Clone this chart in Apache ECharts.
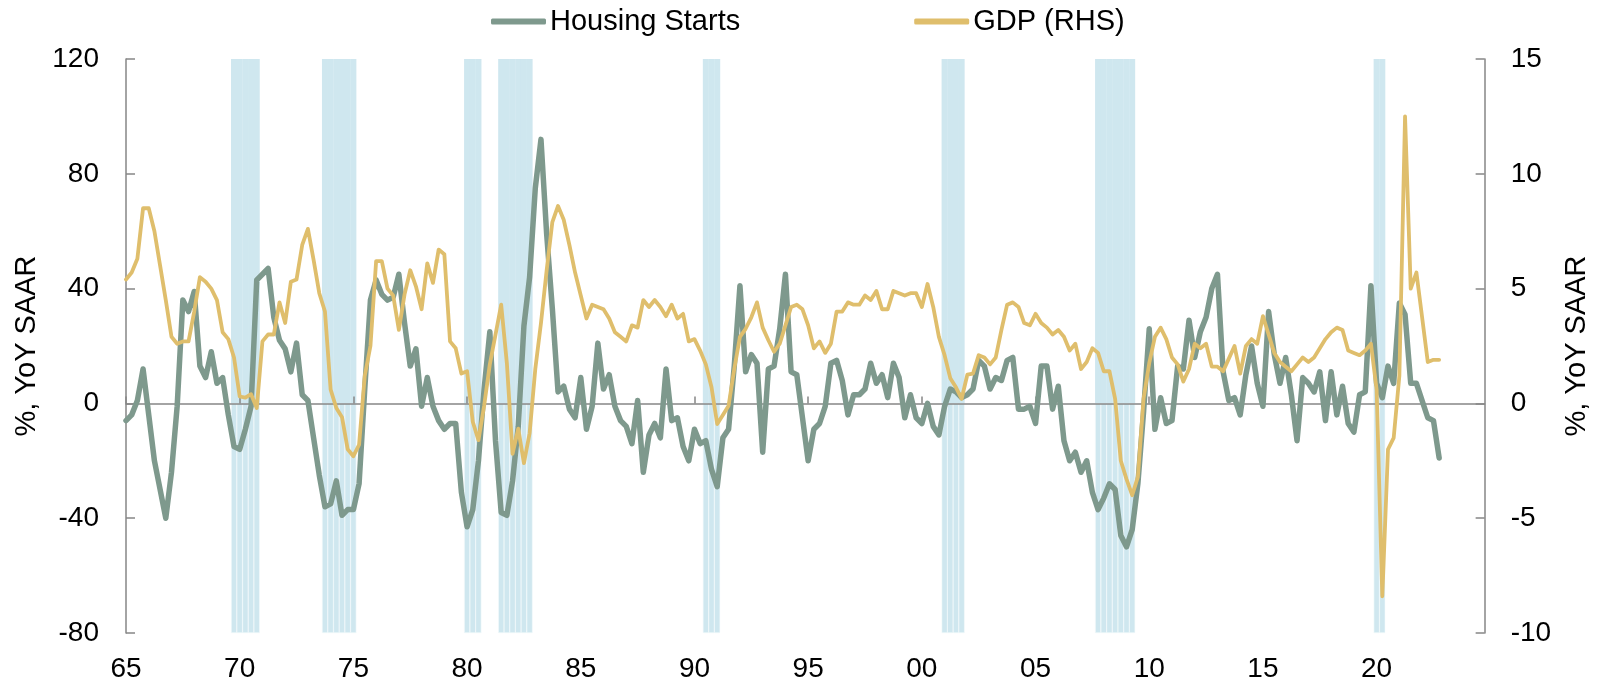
<!DOCTYPE html>
<html>
<head>
<meta charset="utf-8">
<script src="https://cdn.jsdelivr.net/npm/echarts@6/dist/echarts.min.js"></script>
<style>
  html, body { margin: 0; padding: 0; background: #fff; }
  #chart { width: 1599px; height: 683px; }
</style>
</head>
<body>
<div id="chart"></div>
<script>
// quarterly, starting 1965Q1
const housingStarts = [
  -6, -4, 1, 12, -4, -20, -30, -40, -24, -1,
  36, 32, 39, 13, 9, 18, 7, 9, -4, -15,
  -16, -9, -1, 43, 45, 47, 30, 22, 19, 11,
  21, 3, 1, -12, -25, -36, -35, -27, -39, -37,
  -37, -28, 5, 36, 43, 38, 36, 37, 45, 28,
  13, 19, -1, 9, -1, -6, -9, -7, -7, -31,
  -43, -37, -20, 5, 25, -13, -38, -39, -27, -8,
  27, 44, 75, 92, 59, 33, 4, 6, -2, -5,
  9, -9, -1, 21, 5, 10, -1, -6, -8, -14,
  1, -24, -11, -7, -12, 12, -6, -5, -15, -20,
  -9, -14, -13, -23, -29, -12, -9, 13, 41, 11,
  17, 14, -17, 12, 13, 26, 45, 11, 10, -5,
  -20, -9, -7, -1, 14, 15, 8, -4, 3, 3,
  5, 14, 7, 10, 2, 14, 9, -5, 3, -5,
  -7, 0, -8, -11, -1, 5, 4, 2, 3, 5,
  15, 13, 5, 9, 8, 15, 16, -2, -2, -1,
  -7, 13, 13, -2, 6, -13, -20, -17, -24, -20,
  -31, -37, -33, -28, -30, -46, -50, -44, -28, -3,
  26, -9, 2, -7, -6, 13, 12, 29, 16, 25,
  30, 40, 45, 11, 1, 2, -4, 10, 20, 7,
  -1, 32, 17, 7, 16, 3, -13, 9, 7, 4,
  11, -6, 11, -4, 6, -7, -10, 3, 4, 41,
  7, 2, 13, 7, 35, 31, 7, 7, 1, -5,
  -6, -19
];

const gdp = [
  5.4, 5.7, 6.3, 8.5, 8.5, 7.5, 6.0, 4.5, 2.9, 2.6,
  2.7, 2.7, 4.0, 5.5, 5.3, 5.0, 4.5, 3.1, 2.8, 2.0,
  0.3, 0.25, 0.4, -0.2, 2.7, 3.0, 3.0, 4.4, 3.5, 5.3,
  5.4, 6.9, 7.6, 6.25, 4.8, 4.0, 0.6, -0.2, -0.6, -2.0,
  -2.3, -1.8, 1.2, 2.5, 6.2, 6.2, 5.0, 4.7, 3.2, 4.75,
  5.8, 5.1, 4.1, 6.1, 5.25, 6.7, 6.5, 2.7, 2.4, 1.3,
  1.4, -0.8, -1.6, -0.1, 1.7, 3.0, 4.3, 1.75, -2.2, -1.1,
  -2.6, -1.3, 1.5, 3.5, 5.8, 7.9, 8.6, 8.0, 6.9, 5.7,
  4.7, 3.7, 4.3, 4.2, 4.1, 3.7, 3.1, 2.9, 2.7, 3.4,
  3.3, 4.5, 4.2, 4.5, 4.2, 3.8, 4.3, 3.7, 3.9, 2.7,
  2.8, 2.3, 1.7, 0.7, -0.9, -0.5, -0.1, 1.5, 2.9, 3.25,
  3.75, 4.4, 3.3, 2.75, 2.25, 2.6, 3.4, 4.2, 4.3, 4.1,
  3.4, 2.4, 2.7, 2.2, 2.6, 4.0, 4.0, 4.4, 4.3, 4.3,
  4.7, 4.5, 4.9, 4.1, 4.1, 4.9, 4.8, 4.7, 4.8, 4.8,
  4.2, 5.2, 4.2, 2.9, 2.1, 1.1, 0.7, 0.2, 1.25, 1.3,
  2.1, 2.0, 1.7, 2.0, 3.2, 4.3, 4.4, 4.2, 3.5, 3.4,
  3.9, 3.5, 3.3, 3.0, 3.2, 2.9, 2.3, 2.6, 1.5, 1.8,
  2.4, 2.2, 1.4, 1.4, 0.2, -2.5, -3.3, -4.0, -3.2, 0.2,
  1.75, 2.9, 3.3, 2.8, 2.0, 1.7, 0.95, 1.5, 2.6, 2.4,
  2.6, 1.6, 1.6, 1.4, 1.95, 2.5, 1.3, 2.5, 2.8, 2.6,
  3.8, 3.0, 2.2, 1.8, 1.6, 1.4, 1.7, 2.0, 1.8, 2.0,
  2.4, 2.8, 3.1, 3.3, 3.2, 2.3, 2.2, 2.1, 2.3, 2.6,
  0.6, -8.4, -2.0, -1.5, 1.2, 12.5, 5.0, 5.7, 3.75, 1.8,
  1.9, 1.9
];

// recession quarters (first, last)
const recessions = [
  ["1969Q4", "1970Q4"],
  ["1973Q4", "1975Q1"],
  ["1980Q1", "1980Q3"],
  ["1981Q3", "1982Q4"],
  ["1990Q3", "1991Q1"],
  ["2001Q1", "2001Q4"],
  ["2007Q4", "2009Q2"],
  ["2020Q1", "2020Q2"]
];

const firstYear = 1965;
const lastYear = 2024;
const leftMin = -80, leftMax = 120, leftStep = 40;
const rightMin = -10, rightMax = 15, rightStep = 5;

const quarters = [];
for (let y = firstYear; y <= lastYear; y++) {
  for (let q = 1; q <= 4; q++) quarters.push(y + "Q" + q);
}
const recUp = quarters.map(() => "-");
const recDown = quarters.map(() => "-");
recessions.forEach(([a, b]) => {
  for (let i = quarters.indexOf(a); i <= quarters.indexOf(b); i++) {
    recUp[i] = leftMax;
    recDown[i] = leftMin;
  }
});

const font = "Liberation Sans, Arial, sans-serif";
const grey = "#868686";
const every5y = (i) => i % 20 === 0;

const myChart = echarts.init(document.getElementById("chart"));

const option = {
  animation: false,
  backgroundColor: "#fff",
  textStyle: { fontFamily: font, color: "#000" },
  legend: {
    data: ["Housing Starts", "GDP (RHS)"],
    left: 491,
    top: 7,
    padding: 0,
    icon: "roundRect",
    itemWidth: 55,
    itemHeight: 6,
    itemGap: 174,
    textStyle: { fontSize: 29, color: "#000", fontFamily: font, padding: [0, 0, 0, -1] }
  },
  grid: { left: 126, right: 113, top: 59, bottom: 50, containLabel: false },
  xAxis: [
    {
      type: "category",
      data: quarters,
      boundaryGap: false,
      axisLine: { onZero: true, lineStyle: { color: grey, width: 1.5 } },
      axisTick: { inside: true, length: 7, interval: every5y, lineStyle: { color: grey, width: 1.5 } },
      axisLabel: { show: false },
      splitLine: { show: false }
    },
    {
      type: "category",
      data: quarters,
      position: "bottom",
      boundaryGap: false,
      axisLine: { show: false, onZero: false },
      axisTick: { show: false },
      axisLabel: {
        interval: every5y,
        formatter: (v) => v.slice(2, 4),
        fontSize: 28,
        color: "#000",
        fontFamily: font,
        margin: 22
      },
      splitLine: { show: false }
    }
  ],
  yAxis: [
    {
      type: "value",
      min: leftMin,
      max: leftMax,
      interval: leftStep,
      name: "%, YoY SAAR",
      nameLocation: "middle",
      nameRotate: 90,
      nameGap: 81,
      nameTextStyle: { fontSize: 29, color: "#000", fontFamily: font },
      axisLine: { show: true, lineStyle: { color: grey, width: 1.5 } },
      axisTick: { show: true, inside: true, length: 9, lineStyle: { color: grey, width: 1.5 } },
      axisLabel: { fontSize: 28, color: "#000", fontFamily: font, margin: 27 },
      splitLine: { show: false }
    },
    {
      type: "value",
      position: "right",
      min: rightMin,
      max: rightMax,
      interval: rightStep,
      name: "%, YoY SAAR",
      nameLocation: "middle",
      nameRotate: 90,
      nameGap: 77,
      nameTextStyle: { fontSize: 29, color: "#000", fontFamily: font },
      axisLine: { show: true, lineStyle: { color: grey, width: 1.5 } },
      axisTick: { show: true, inside: true, length: 9, lineStyle: { color: grey, width: 1.5 } },
      axisLabel: { fontSize: 28, color: "#000", fontFamily: font, margin: 26 },
      splitLine: { show: false }
    }
  ],
  series: [
    {
      name: "recession",
      type: "bar",
      data: recUp,
      barWidth: 6,
      barGap: "-100%",
      itemStyle: { color: "#CFE7EF" },
      silent: true,
      z: -1
    },
    {
      name: "recession-low",
      type: "bar",
      data: recDown,
      barWidth: 6,
      barGap: "-100%",
      itemStyle: { color: "#CFE7EF", borderColor: "#f4fafc", borderWidth: 0.6 },
      silent: true,
      z: -1
    },
    {
      name: "Housing Starts",
      type: "line",
      data: housingStarts,
      yAxisIndex: 0,
      symbol: "none",
      itemStyle: { color: "#7E998D" },
      lineStyle: { color: "#7E998D", width: 5.5, cap: "round", join: "round" },
      z: 3
    },
    {
      name: "GDP (RHS)",
      type: "line",
      data: gdp,
      yAxisIndex: 1,
      symbol: "none",
      itemStyle: { color: "#DFBE6C" },
      lineStyle: { color: "#DFBE6C", width: 3.8, cap: "round", join: "round" },
      z: 4
    }
  ]
};

myChart.setOption(option);
window.onresize = () => {
  myChart.resize();
};
</script>
</body>
</html>
